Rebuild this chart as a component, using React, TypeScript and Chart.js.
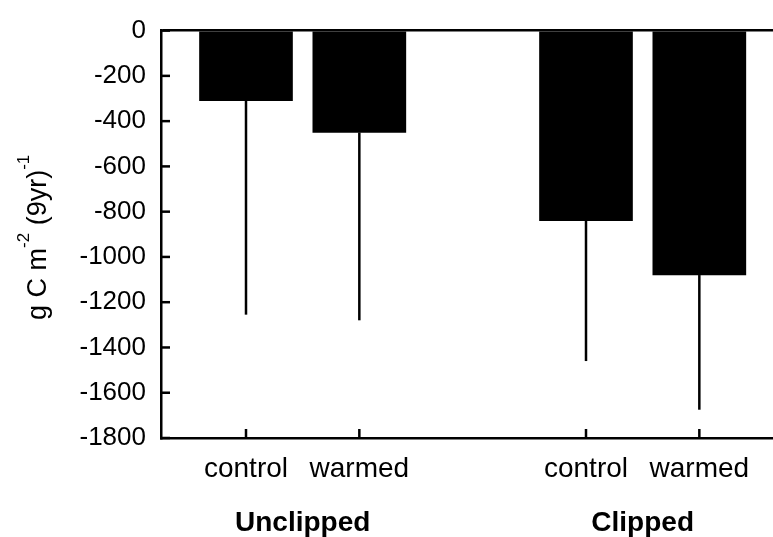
import React, { useEffect, useRef } from "react";
import { Chart, registerables } from "chart.js";

Chart.register(...registerables);

// ---- data ----
const treatments = ["control", "warmed", "control", "warmed"];
const groups = ["Unclipped", "Clipped"];
const slots = [1, 2, 4, 5]; // bar positions on the x axis (group gap = one empty slot)
const groupMembers = [[0, 1], [2, 3]];
const means = [-310, -450, -840, -1080];
const errors = [945, 830, 620, 595]; // lower whisker length
const yMin = -1800;
const yMax = 0;
const yStep = 200;
const xMin = 0.25;
const xMax = 5.65;

const FONT = '"Liberation Sans", Arial, Helvetica, sans-serif';

const annotate = {
  id: "annotate",
  afterDatasetsDraw(chart: any) {
    const { ctx, scales } = chart;
    const x = scales.x;
    const y = scales.y;
    ctx.save();
    ctx.strokeStyle = "#000";
    ctx.lineWidth = 2.5;
    means.forEach((m, i) => {
      const px = x.getPixelForValue(slots[i]);
      ctx.beginPath();
      ctx.moveTo(px, y.getPixelForValue(m));
      ctx.lineTo(px, y.getPixelForValue(m - errors[i]));
      ctx.stroke();
    });
    ctx.restore();
  },
  afterDraw(chart: any) {
    const { ctx, chartArea, scales } = chart;
    const x = scales.x;
    const y = scales.y;
    ctx.save();
    ctx.strokeStyle = "#000";
    ctx.fillStyle = "#000";
    ctx.lineWidth = 2.5;
    // inside y ticks
    y.ticks.forEach((t: any) => {
      const py = y.getPixelForValue(t.value);
      ctx.beginPath();
      ctx.moveTo(chartArea.left, py);
      ctx.lineTo(chartArea.left + 9, py);
      ctx.stroke();
    });
    // inside x ticks
    slots.forEach((s) => {
      const px = x.getPixelForValue(s);
      ctx.beginPath();
      ctx.moveTo(px, chartArea.bottom);
      ctx.lineTo(px, chartArea.bottom - 9);
      ctx.stroke();
    });
    // category labels
    ctx.textAlign = "center";
    ctx.textBaseline = "alphabetic";
    ctx.font = `28px ${FONT}`;
    treatments.forEach((t, i) => {
      ctx.fillText(t, x.getPixelForValue(slots[i]), chartArea.bottom + 39);
    });
    // group labels
    ctx.font = `bold 28px ${FONT}`;
    groups.forEach((g, gi) => {
      const mem = groupMembers[gi];
      const c =
        mem.reduce((a, k) => a + x.getPixelForValue(slots[k]), 0) / mem.length;
      ctx.fillText(g, c, chartArea.bottom + 93);
    });
    // y axis title with superscripts
    const parts: [string, boolean][] = [
      ["g C m", false],
      ["-2", true],
      [" (9yr)", false],
      ["-1", true],
    ];
    const mainFont = `27px ${FONT}`;
    const supFont = `17px ${FONT}`;
    let total = 0;
    parts.forEach(([s, sup]) => {
      ctx.font = sup ? supFont : mainFont;
      total += ctx.measureText(s).width;
    });
    const cy = (chartArea.top + chartArea.bottom) / 2 + 3;
    ctx.translate(46, cy);
    ctx.rotate(-Math.PI / 2);
    ctx.textAlign = "left";
    let cx = -total / 2;
    parts.forEach(([s, sup]) => {
      ctx.font = sup ? supFont : mainFont;
      ctx.fillText(s, cx, sup ? -17 : 0);
      cx += ctx.measureText(s).width;
    });
    ctx.restore();
  },
};

export default function App() {
  const ref = useRef<HTMLCanvasElement | null>(null);
  useEffect(() => {
    if (!ref.current) return;
    const chart = new Chart(ref.current, {
      type: "bar",
      data: {
        datasets: [
          {
            data: slots.map((s, i) => ({ x: s, y: means[i] })),
            backgroundColor: "#000",
            borderWidth: 0,
            barThickness: 93,
          },
        ],
      },
      options: {
        responsive: false,
        animation: false,
        layout: { padding: { top: 25, right: 0, left: 0, bottom: 0 } },
        plugins: {
          legend: { display: false },
          tooltip: { enabled: false },
          title: { display: false },
        },
        scales: {
          x: {
            type: "linear",
            offset: false,
            min: xMin,
            max: xMax,
            grid: { display: false, drawTicks: false, offset: false },
            border: { display: true, color: "#000", width: 2.5 },
            ticks: { display: false },
            afterFit: (s: any) => {
              s.height = 99;
            },
          },
          y: {
            min: yMin,
            max: yMax,
            ticks: {
              stepSize: yStep,
              color: "#000",
              padding: 15,
              font: { family: FONT, size: 26 },
              callback: (v: any) => String(v),
            },
            grid: {
              drawTicks: false,
              color: (c: any) => (c.tick && c.tick.value === 0 ? "#000" : "rgba(0,0,0,0)"),
              lineWidth: 2.5,
            },
            border: { display: true, color: "#000", width: 2.5 },
            afterFit: (s: any) => {
              s.width = 161;
            },
          },
        },
      },
      plugins: [annotate],
    } as any);
    return () => chart.destroy();
  }, []);
  return (
    <div style={{ position: "absolute", left: 0, top: 0, width: 773, height: 537, background: "#fff" }}>
      <canvas ref={ref} width={773} height={537} />
    </div>
  );
}
